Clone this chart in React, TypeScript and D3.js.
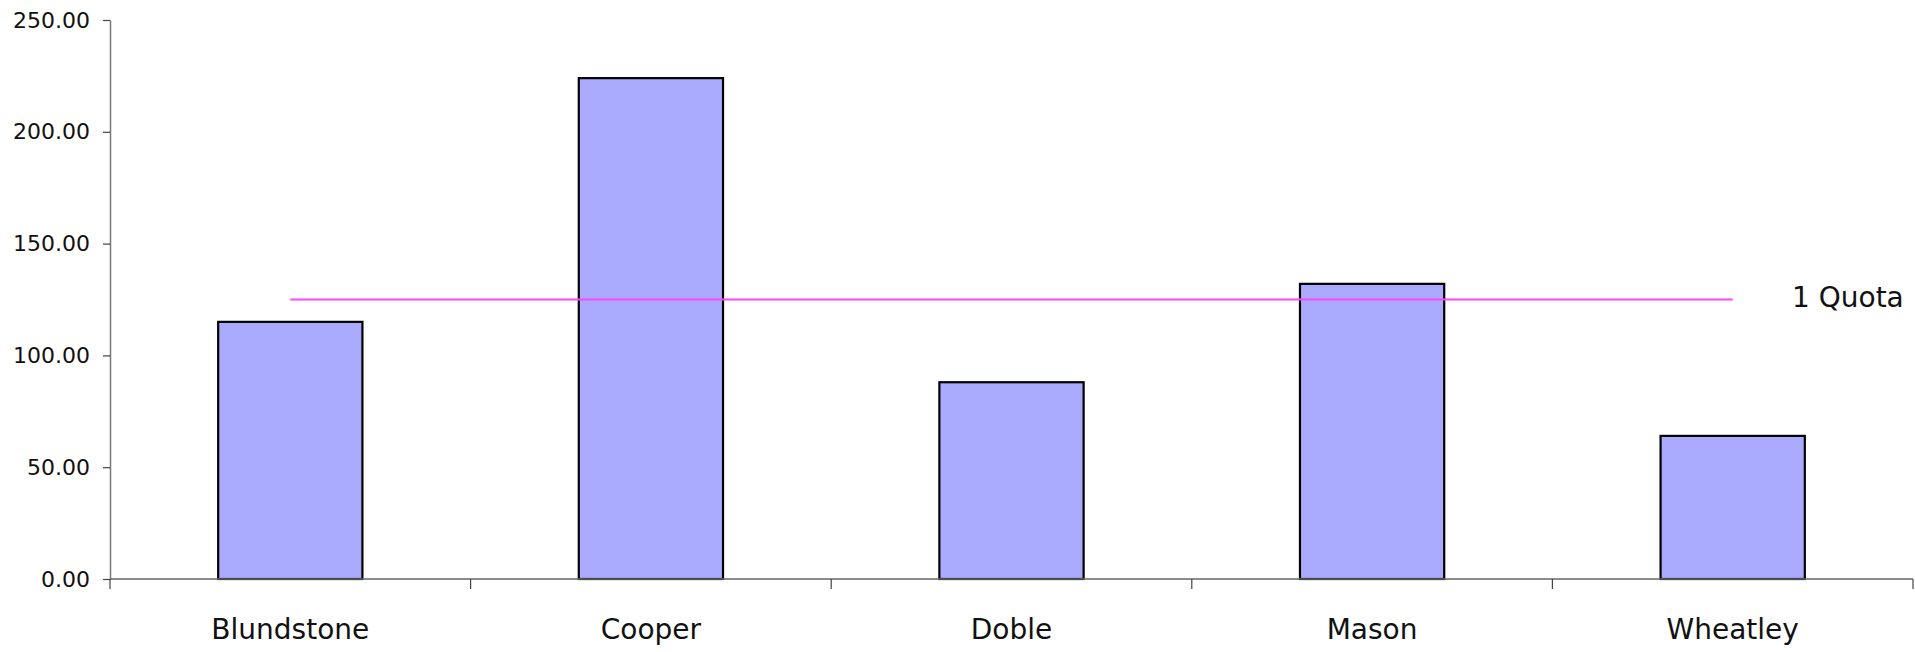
import React, { useEffect, useRef } from 'react';
import * as d3 from 'd3';

const candidates = ['Blundstone', 'Cooper', 'Doble', 'Mason', 'Wheatley'];
const votes = [115, 224, 88, 132, 64];
const quota = [125, 125, 125, 125, 125];
const quotaLabel = '1 Quota';
const yTicks = [0, 50, 100, 150, 200, 250];

const App = () => {
  const svgRef = useRef(null);

  const width = 1915;
  const height = 652;
  const margin = { top: 20, right: 2, bottom: 73, left: 110 };
  const font = '"DejaVu Sans", Verdana, sans-serif';

  useEffect(() => {
    const svg = d3.select(svgRef.current);
    svg.selectAll('*').remove();

    const xScale = d3.scaleBand()
      .domain(candidates)
      .range([margin.left, width - margin.right])
      .padding(0);

    const yScale = d3.scaleLinear()
      .domain([0, 250])
      .range([height - margin.bottom, margin.top]);

    const bw = xScale.bandwidth();
    const barW = bw * 0.4;
    const base = yScale(0);

    // y axis
    const yAxis: any = d3.axisLeft(yScale)
      .tickValues(yTicks)
      .tickFormat(d3.format('.2f'))
      .tickSize(7)
      .tickPadding(13)
      .tickSizeOuter(0);

    svg.append('g')
      .attr('transform', `translate(${margin.left}, 0)`)
      .call(yAxis)
      .call(g => g.select('.domain').attr('stroke', '#777').attr('stroke-width', 1.5))
      .call(g => g.selectAll('.tick line').attr('stroke', '#444').attr('stroke-width', 1.2))
      .call(g => g.selectAll('.tick text')
        .attr('font-family', font)
        .attr('font-size', 22)
        .attr('fill', '#111')
        .attr('dy', '0.32em'));

    // bars
    svg.append('g')
      .selectAll('rect')
      .data(votes)
      .join('rect')
      .attr('x', (d, i) => (xScale(candidates[i]) as number) + (bw - barW) / 2)
      .attr('y', d => yScale(d))
      .attr('width', barW)
      .attr('height', d => base - yScale(d))
      .attr('fill', '#AAAAFF')
      .attr('stroke', '#000')
      .attr('stroke-width', 2.2);

    // x axis
    const xg = svg.append('g');
    xg.append('line')
      .attr('x1', margin.left)
      .attr('x2', width - margin.right)
      .attr('y1', base)
      .attr('y2', base)
      .attr('stroke', '#666')
      .attr('stroke-width', 1.5);

    const bounds = candidates.map(c => xScale(c) as number).concat([xScale.range()[1]]);
    xg.selectAll('line.tick')
      .data(bounds)
      .join('line')
      .attr('class', 'tick')
      .attr('x1', d => d)
      .attr('x2', d => d)
      .attr('y1', base)
      .attr('y2', base + 10)
      .attr('stroke', '#444')
      .attr('stroke-width', 1.2);

    xg.selectAll('text')
      .data(candidates)
      .join('text')
      .attr('x', d => (xScale(d) as number) + bw / 2)
      .attr('y', base + 60)
      .attr('text-anchor', 'middle')
      .attr('font-family', font)
      .attr('font-size', 28)
      .attr('fill', '#111')
      .text(d => d);

    // quota line
    const line = d3.line<number>()
      .x((d, i) => (xScale(candidates[i]) as number) + bw / 2)
      .y(d => yScale(d));

    svg.append('path')
      .datum(quota)
      .attr('fill', 'none')
      .attr('stroke', '#FF44FF')
      .attr('stroke-width', 2)
      .attr('d', line);

    svg.append('text')
      .attr('x', 1792)
      .attr('y', yScale(quota[quota.length - 1]))
      .attr('dy', '0.25em')
      .attr('font-family', font)
      .attr('font-size', 28)
      .attr('fill', '#111')
      .style('white-space', 'pre')
      .text(quotaLabel);
  }, []);

  return (
    <svg
      ref={svgRef}
      width={width}
      height={height}
      style={{ position: 'absolute', left: 0, top: 0, background: '#fff' }}
    />
  );
};

export default App;
